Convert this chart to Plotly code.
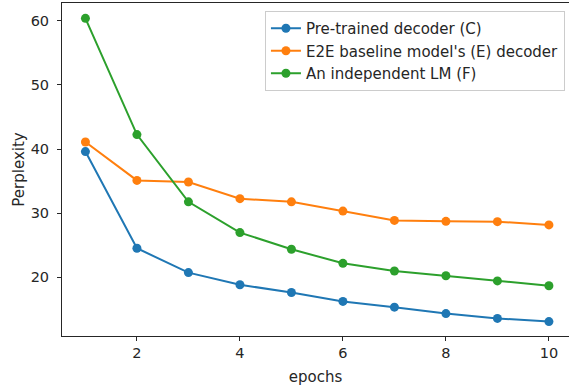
import plotly.graph_objects as go

epochs = [1, 2, 3, 4, 5, 6, 7, 8, 9, 10]
pretrained_c = [39.6, 24.5, 20.7, 18.8, 17.6, 16.2, 15.3, 14.3, 13.55, 13.05]
e2e_e = [41.1, 35.1, 34.85, 32.25, 31.75, 30.3, 28.85, 28.7, 28.65, 28.15]
lm_f = [60.4, 42.25, 31.75, 26.95, 24.35, 22.15, 20.95, 20.2, 19.4, 18.65]

series = [
    ("Pre-trained decoder (C)", pretrained_c, "#1f77b4"),
    ("E2E baseline model's (E) decoder", e2e_e, "#ff7f0e"),
    ("An independent LM (F)", lm_f, "#2ca02c"),
]

fig = go.Figure()
for name, vals, color in series:
    fig.add_trace(go.Scatter(
        x=epochs, y=vals, name=name, mode="lines+markers",
        line=dict(color=color, width=2),
        marker=dict(color=color, size=9),
    ))

font = "DejaVu Sans, sans-serif"
fs = 15
fig.update_layout(
    width=569, height=390,
    margin=dict(l=62, r=0, t=3, b=54, autoexpand=False),
    paper_bgcolor="white", plot_bgcolor="white",
    font=dict(family=font, size=fs, color="#262626"),
    showlegend=True,
    legend=dict(
        x=0.992, xanchor="right", y=0.976, yanchor="top",
        bgcolor="rgba(255,255,255,0.8)", bordercolor="#cccccc", borderwidth=1,
        font=dict(size=fs, color="#262626"),
        tracegroupgap=0, itemwidth=30,
    ),
    xaxis=dict(
        range=[0.545, 10.39], tickvals=[2, 4, 6, 8, 10],
        showgrid=False, zeroline=False, automargin=False,
        showline=True, linecolor="#262626", linewidth=1, mirror=True,
        ticks="outside", ticklen=4, tickcolor="#262626",
        tickfont=dict(size=14.5),
        title=dict(text="epochs", standoff=11, font=dict(size=fs)),
    ),
    yaxis=dict(
        range=[10.8, 62.8], tickvals=[20, 30, 40, 50, 60],
        showgrid=False, zeroline=False, automargin=False,
        showline=True, linecolor="#262626", linewidth=1,
        ticks="outside", ticklen=4, tickcolor="#262626",
        tickfont=dict(size=14.5), ticklabelstandoff=5,
        title=dict(text="Perplexity", standoff=2, font=dict(size=fs)),
    ),
)

fig.write_html("out.html", config={"displayModeBar": False},
               post_script="document.body.style.margin='0';")
